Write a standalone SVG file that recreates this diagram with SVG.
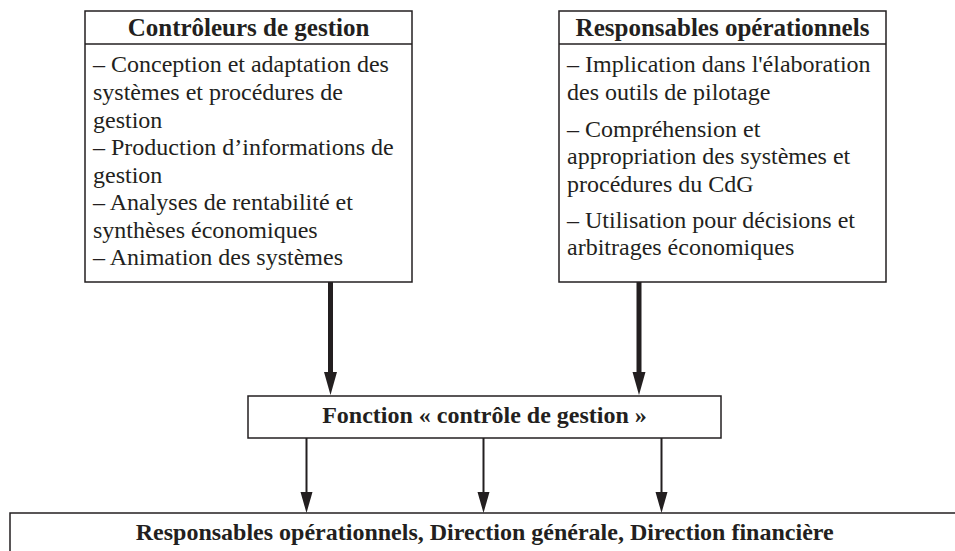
<svg xmlns="http://www.w3.org/2000/svg" width="955" height="551" viewBox="0 0 955 551">
<defs>
<style>
.box{fill:#fff;stroke:#231f20;stroke-width:1.5}
.sep{stroke:#231f20;stroke-width:1.5}
.hd{font-family:"Liberation Serif","Times New Roman",serif;font-weight:bold;font-size:25px;fill:#231f20;text-anchor:middle}
.bd{font-family:"Liberation Serif","Times New Roman",serif;font-size:24px;fill:#231f20}
.mid{font-family:"Liberation Serif","Times New Roman",serif;font-weight:bold;font-size:24px;fill:#231f20;text-anchor:middle}
.thick{stroke:#231f20;stroke-width:5;fill:none}
.thin{stroke:#231f20;stroke-width:2;fill:none}
.head{fill:#231f20}
</style>
</defs>
<rect width="955" height="551" fill="#fff"/>
<g id="controleurs">
<rect class="box" x="85" y="11" width="327" height="271"/>
<line class="sep" x1="85" y1="44" x2="412" y2="44"/>
<text class="hd" x="248.5" y="36">Contrôleurs de gestion</text>
<text class="bd" x="93" y="72">– Conception et adaptation des</text>
<text class="bd" x="93" y="100">systèmes et procédures de</text>
<text class="bd" x="93" y="127.5">gestion</text>
<text class="bd" x="93" y="155">– Production d’informations de</text>
<text class="bd" x="93" y="182.5">gestion</text>
<text class="bd" x="93" y="210">– Analyses de rentabilité et</text>
<text class="bd" x="93" y="237.5">synthèses économiques</text>
<text class="bd" x="93" y="265">– Animation des systèmes</text>
</g>
<g id="responsables">
<rect class="box" x="559" y="11" width="327" height="271"/>
<line class="sep" x1="559" y1="44" x2="886" y2="44"/>
<text class="hd" x="722.5" y="36">Responsables opérationnels</text>
<text class="bd" x="567" y="72">– Implication dans l'élaboration</text>
<text class="bd" x="567" y="100">des outils de pilotage</text>
<text class="bd" x="567" y="136.5">– Compréhension et</text>
<text class="bd" x="567" y="164">appropriation des systèmes et</text>
<text class="bd" x="567" y="191.5">procédures du CdG</text>
<text class="bd" x="567" y="228">– Utilisation pour décisions et</text>
<text class="bd" x="567" y="255">arbitrages économiques</text>
</g>
<g id="fonction">
<rect class="box" x="248" y="396" width="473" height="42"/>
<text class="mid" x="484.5" y="423">Fonction « contrôle de gestion »</text>
</g>
<g id="destinataires">
<rect class="box" x="10" y="513" width="960" height="60"/>
<text class="mid" x="484.7" y="540">Responsables opérationnels, Direction générale, Direction financière</text>
</g>
<g id="connectors">
<line class="thick" x1="330.5" y1="282" x2="330.5" y2="375"/>
<polygon class="head" points="324,372 337,372 330.5,395"/>
<line class="thick" x1="639" y1="282" x2="639" y2="375"/>
<polygon class="head" points="632.5,372 645.5,372 639,395"/>
<line class="thin" x1="306.5" y1="438" x2="306.5" y2="495"/>
<polygon class="head" points="300.5,492 312.5,492 306.5,513"/>
<line class="thin" x1="483.5" y1="438" x2="483.5" y2="495"/>
<polygon class="head" points="477.5,492 489.5,492 483.5,513"/>
<line class="thin" x1="661.5" y1="438" x2="661.5" y2="495"/>
<polygon class="head" points="655.5,492 667.5,492 661.5,513"/>
</g>
</svg>
